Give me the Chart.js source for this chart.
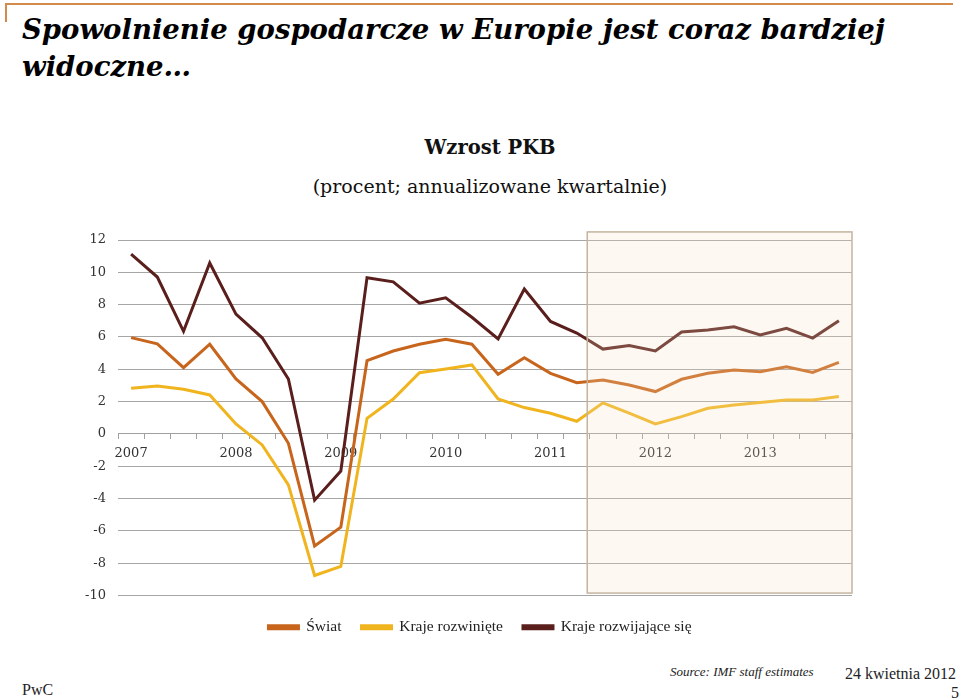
<!DOCTYPE html>
<html>
<head>
<meta charset="utf-8">
<script src="https://cdn.jsdelivr.net/npm/chart.js@4.4.1/dist/chart.umd.min.js"></script>
<style>
  body { margin: 0; width: 960px; height: 700px; background: #fff; position: relative; overflow: hidden; font-family: "DejaVu Serif", serif; }
  .frame { position: absolute; left: 5px; top: 3px; width: 946px; height: 17px; border-top: 2px solid #d48a4c; border-left: 2px solid #d48a4c; }
  .title { position: absolute; left: 22px; top: 11px; font: italic bold 27.5px/37px "DejaVu Serif", serif; color: #000; }
  .ctitle { position: absolute; left: 0; width: 980px; text-align: center; top: 136px; font: bold 19.5px "DejaVu Serif", serif; color: #111; }
  .csub { position: absolute; left: 0; width: 980px; text-align: center; top: 175px; font: 19px "DejaVu Serif", serif; color: #111; }
  .box { position: absolute; left: 0; top: 220px; width: 960px; height: 430px; }
  .pwc { position: absolute; left: 22px; top: 681px; font: 16px "Liberation Serif", serif; color: #222; }
  .src { position: absolute; left: 670px; top: 664px; font: italic 13px "Liberation Serif", serif; color: #222; }
  .date { position: absolute; left: 845px; top: 665px; font: 16px "Liberation Serif", serif; color: #222; }
  .page { position: absolute; left: 951px; top: 684px; font: 16px "Liberation Serif", serif; color: #222; }
</style>
</head>
<body>
<div class="frame"></div>
<div class="title">Spowolnienie gospodarcze w Europie jest coraz bardziej<br>widoczne…</div>
<div class="ctitle">Wzrost PKB</div>
<div class="csub">(procent; annualizowane kwartalnie)</div>
<div class="box"><canvas id="gdp"></canvas></div>
<div class="pwc">PwC</div>
<div class="src">Source: IMF staff estimates</div>
<div class="date">24 kwietnia 2012</div>
<div class="page">5</div>
<script>
// quarters 2007Q1 .. 2013Q4
const quarters = [
  '2007Q1','2007Q2','2007Q3','2007Q4','2008Q1','2008Q2','2008Q3','2008Q4',
  '2009Q1','2009Q2','2009Q3','2009Q4','2010Q1','2010Q2','2010Q3','2010Q4',
  '2011Q1','2011Q2','2011Q3','2011Q4','2012Q1','2012Q2','2012Q3','2012Q4',
  '2013Q1','2013Q2','2013Q3','2013Q4'
];
const world = [5.96, 5.57, 4.10, 5.55, 3.40, 2.00, -0.58, -6.93, -5.77, 4.53, 5.13, 5.55, 5.86, 5.55,
  3.69, 4.72, 3.75, 3.17, 3.34, 3.03, 2.62, 3.38, 3.75, 3.96, 3.85, 4.16, 3.81, 4.43];
const advanced = [2.83, 2.97, 2.76, 2.41, 0.62, -0.68, -3.15, -8.76, -8.20, 0.97, 2.16, 3.79, 4.02, 4.27,
  2.16, 1.63, 1.28, 0.78, 1.92, 1.28, 0.62, 1.07, 1.59, 1.79, 1.94, 2.10, 2.10, 2.31];
const emerging = [11.13, 9.71, 6.35, 10.58, 7.41, 5.95, 3.40, -4.10, -2.30, 9.67, 9.41, 8.09, 8.42, 7.22,
  5.88, 8.97, 6.96, 6.24, 5.25, 5.47, 5.14, 6.31, 6.43, 6.63, 6.12, 6.54, 5.93, 7.00];
const yTicks = { min: -10, max: 12, step: 2 };
const forecastFrom = 17.4; // shaded projection period starts mid 2011

const shade = {
  id: 'shade',
  afterLayout(chart) {
    // nudge the legend so it sits where the original one does
    const l = chart.legend;
    l.left += 24; l.right += 24;
    l.top += 4; l.bottom += 4;
  },
  afterDatasetsDraw(chart) {
    const { ctx, chartArea, scales } = chart;
    const x0 = scales.x.getPixelForValue(forecastFrom);
    const y0 = scales.y.getPixelForValue(12.5);
    const y1 = scales.y.getPixelForValue(-9.85);
    ctx.save();
    ctx.fillStyle = 'rgba(245,226,198,0.22)';
    ctx.fillRect(x0, y0, chartArea.right - x0, y1 - y0);
    ctx.strokeStyle = '#c4b59f';
    ctx.lineWidth = 1.5;
    ctx.strokeRect(x0, y0, chartArea.right - x0, y1 - y0);
    ctx.restore();
  }
};

const line = (label, data, color) => ({
  label, data,
  borderColor: color, backgroundColor: color,
  borderWidth: 3, pointRadius: 0, tension: 0
});

new Chart(document.getElementById('gdp'), {
  type: 'line',
  data: {
    labels: quarters,
    datasets: [
      line('Świat', world, '#c8651c'),
      line('Kraje rozwinięte', advanced, '#f0b41e'),
      line('Kraje rozwijające się', emerging, '#5a1f1c')
    ]
  },
  options: {
    responsive: true,
    maintainAspectRatio: false,
    animation: false,
    layout: { padding: { left: 60, right: 108, top: 20, bottom: 9 } },
    plugins: {
      legend: {
        position: 'bottom',
        labels: {
          boxWidth: 30, boxHeight: 3, padding: 20,
          color: '#222', font: { family: 'Liberation Serif', size: 15.5 }
        }
      },
      tooltip: { enabled: false }
    },
    scales: {
      x: {
        offset: true,
        position: { y: 0 },
        border: { color: '#a0a0a0' },
        grid: { drawOnChartArea: false, offset: true, tickLength: 5, color: '#a0a0a0' },
        ticks: {
          autoSkip: false, maxRotation: 0, padding: 7,
          color: '#333', font: { family: 'DejaVu Serif', size: 13 },
          callback: (v, i) => quarters[i].endsWith('Q1') ? quarters[i].slice(0, 4) : ''
        }
      },
      y: {
        min: yTicks.min, max: yTicks.max,
        afterFit(scale) { scale.width = 58; },
        border: { display: false },
        grid: { color: '#a6a6a6', drawTicks: false },
        ticks: {
          stepSize: yTicks.step, padding: 12,
          color: '#333', font: { family: 'DejaVu Serif', size: 13 }
        }
      }
    }
  },
  plugins: [shade]
});
</script>
</body>
</html>
